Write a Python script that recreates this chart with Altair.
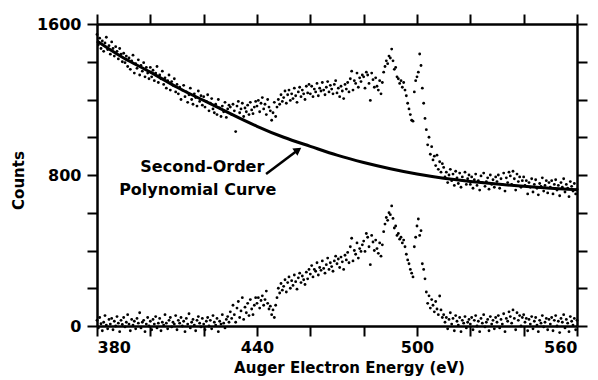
import altair as alt
import pandas as pd

# ---- data (0.5 eV steps starting at 380 eV) ----
START_EV = 380
STEP_EV = 0.5

raw_counts = [
    1545, 1490, 1525, 1470, 1510, 1455, 1500, 1530, 1465, 1485, 1440, 1505, 1470, 1430, 1480, 1455, 1415, 1470, 1440, 1400,
    1445, 1395, 1430, 1375, 1420, 1360, 1405, 1435, 1340, 1390, 1365, 1410, 1330, 1380, 1350, 1395, 1320, 1370, 1340, 1310,
    1370, 1320, 1355, 1300, 1340, 1375, 1290, 1330, 1310, 1350, 1280, 1315, 1260, 1300, 1330, 1250, 1295, 1275, 1310, 1240,
    1280, 1230, 1265, 1200, 1250, 1275, 1215, 1240, 1185, 1225, 1260, 1200, 1175, 1230, 1210, 1165, 1245, 1190, 1220, 1170,
    1215, 1160, 1190, 1225, 1140, 1180, 1205, 1150, 1130, 1175, 1120, 1200, 1155, 1110, 1165, 1135, 1185, 1105, 1150, 1170,
    1160, 1120, 1175, 1140, 1030, 1165, 1190, 1130, 1150, 1180, 1110, 1155, 1135, 1170, 1120, 1185, 1145, 1125, 1160, 1190,
    1165, 1195, 1135, 1180, 1210, 1150, 1175, 1120, 1200, 1160, 1140, 1090, 1130, 1185, 1110, 1160, 1200, 1175, 1225, 1190,
    1210, 1245, 1180, 1225, 1250, 1195, 1230, 1205, 1260, 1220, 1185, 1240, 1265, 1215, 1250, 1230, 1200, 1270, 1235, 1280,
    1230, 1270, 1215, 1255, 1240, 1285, 1220, 1260, 1245, 1290, 1250, 1225, 1265, 1295, 1240, 1275, 1255, 1230, 1280, 1300,
    1235, 1260, 1215, 1270, 1245, 1205, 1280, 1255, 1290, 1240, 1310, 1350, 1250, 1300, 1285, 1340, 1265, 1315, 1295, 1330,
    1320, 1260, 1345, 1330, 1285, 1195, 1340, 1305, 1265, 1315, 1270, 1250, 1300, 1230, 1290, 1345, 1375, 1405, 1390, 1430,
    1420, 1467, 1405, 1360, 1370, 1320, 1310, 1285, 1300, 1265, 1290, 1250, 1220, 1180, 1150, 1120, 1090, 1085, 1240, 1300,
    1320, 1345, 1441, 1380, 1260, 1180, 1100, 1040, 960, 1000, 910, 950, 880, 900, 850, 905, 830, 870, 815, 860,
    840, 790, 815, 760, 800, 830, 770, 805, 745, 820, 785, 755, 810, 735, 790, 770, 815, 750, 780, 800,
    750, 790, 730, 775, 805, 745, 770, 720, 795, 760, 810, 740, 765, 785, 725, 800, 750, 775, 735, 790,
    765, 800, 730, 780, 750, 810, 715, 785, 760, 815, 795, 750, 820, 780, 720, 805, 765, 790, 735, 770,
    790, 745, 770, 700, 760, 735, 780, 710, 750, 775, 730, 695, 755, 740, 785, 715, 745, 770, 705, 760,
    735, 770, 700, 750, 775, 720, 745, 690, 760, 735, 780, 710, 750, 730, 685, 765, 740, 715, 755, 700,
    725,
]

subtracted_counts = [
    30, -10, 45, 12, -25, 20, 55, 5, -15, 35, 10, 40, -20, 25, 0, 50, 15, -30, 30, 8,
    45, -5, 20, 60, 10, -25, 35, 5, 25, -15, 40, 15, 70, -10, 20, 30, -30, 10, 45, 0,
    25, -20, 35, 10, 50, -10, 15, 40, -25, 20, 5, 60, 15, -15, 30, 45, -5, 20, 10, 55,
    -20, 30, 15, 45, 0, 25, -30, 40, 10, 65, -10, 20, 35, 5, -25, 30, 50, 15, -5, 40,
    10, -20, 25, 45, 0, 30, -15, 55, 20, 5, 40, -30, 25, 10, 60, 15, -10, 35, 50, 20,
    75, 40, 110, 60, 20, 95, 130, 45, 80, 150, 35, 100, 70, 120, 55, 140, 90, 60, 110, 150,
    120, 150, 95, 135, 160, 110, 140, 185, 120, 90, 105, 60, 85, 45, 110, 150, 200, 175, 225, 190,
    210, 245, 180, 230, 260, 200, 240, 215, 270, 235, 195, 255, 280, 230, 265, 245, 220, 285, 250, 300,
    275, 320, 260, 300, 290, 335, 270, 310, 295, 345, 305, 280, 325, 360, 300, 335, 315, 290, 345, 370,
    330, 355, 310, 365, 340, 300, 375, 350, 390, 335, 420, 465, 345, 400, 380, 440, 360, 410, 395, 430,
    450, 395, 490, 470, 420, 325, 480, 445, 400, 455, 410, 385, 440, 370, 430, 500, 540, 575, 560, 600,
    590, 636, 570, 519, 530, 480, 490, 460, 470, 440, 455, 420, 380, 350, 330, 300, 280, 260, 420, 470,
    530, 567, 480, 505, 330, 300, 250, 180, 120, 160, 95, 140, 110, 75, 130, 90, 60, 159, 85, 45,
    60, 20, 45, -15, 35, 70, 10, 40, -25, 55, 25, 5, 45, -30, 30, 15, 50, -10, 20, 35,
    10, 45, -20, 30, 55, 0, 25, -30, 40, 15, 60, -5, 20, 35, -25, 50, 10, 30, -15, 45,
    20, 55, -10, 35, 10, 65, -30, 40, 25, 75, 50, 15, 85, 40, -20, 70, 30, 55, 0, 45,
    60, 20, 40, -25, 35, 10, 50, -15, 25, 45, 5, -30, 30, 15, 55, -5, 20, 40, -20, 35,
    10, 45, -25, 30, 55, 0, 25, -35, 40, 20, 60, -10, 35, 15, -30, 50, 25, 5, 40, -20,
    30,
]

curve_energy = [380, 390, 400, 410, 420, 430, 440, 450, 460, 470, 480, 490, 500, 510, 520, 530, 540, 550, 560]
curve_counts = [1510, 1420, 1345, 1265, 1195, 1125, 1058, 1000, 952, 905, 866, 833, 805, 783, 766, 752, 740, 730, 722]

label_lines = ["Second-Order", "Polynomial Curve"]
label_energy = [419.5, 417.8]
label_counts = [842, 718]

arrow_tail = [443.4, 805]
arrow_head = [455.0, 929]

x_ticks = [380, 400, 420, 440, 460, 480, 500, 520, 540, 560]
y_ticks = [0, 200, 400, 600, 800, 1000, 1200, 1400, 1600]

# ---- tables ----
pts = pd.DataFrame({
    "energy": [START_EV + STEP_EV * i for i in range(len(raw_counts))]
              + [START_EV + STEP_EV * i for i in range(len(subtracted_counts))],
    "counts": raw_counts + subtracted_counts,
    "series": ["raw"] * len(raw_counts) + ["subtracted"] * len(subtracted_counts),
})
curve_df = pd.DataFrame({"energy": curve_energy, "counts": curve_counts})
text_df = pd.DataFrame({"energy": label_energy, "counts": label_counts, "text": label_lines})
arrow_df = pd.DataFrame({"x": [arrow_tail[0]], "y": [arrow_tail[1]], "x2": [arrow_head[0]], "y2": [arrow_head[1]]})
head_df = pd.DataFrame({"x": [arrow_head[0]], "y": [arrow_head[1]]})

FONT = "DejaVu Sans"
xs = alt.Scale(domain=[380, 560], nice=False, zero=False)
ys = alt.Scale(domain=[0, 1600], nice=False)

common = dict(grid=False, tickSize=10, tickWidth=2, domainWidth=2.5,
              domainColor="black", tickColor="black")

bottom_axis = alt.Axis(values=x_ticks, orient="bottom", format="d",
                       labelExpr="(datum.value - 380) % 60 == 0 ? datum.label : ''",
                       title="Auger Electron Energy (eV)",
                       labelFont=FONT, labelFontSize=16, labelFontWeight="bold", labelColor="black",
                       labelPadding=3,
                       titleFont=FONT, titleFontSize=15, titleFontWeight="bold", titleColor="black",
                       titleX=252, titleY=34, **common)
left_axis = alt.Axis(values=y_ticks, orient="left", format="d",
                     labelExpr="datum.value % 800 == 0 ? datum.label : ''",
                     title="Counts",
                     labelFont=FONT, labelFontSize=16, labelFontWeight="bold", labelColor="black",
                     labelPadding=6,
                     titleFont=FONT, titleFontSize=15, titleFontWeight="bold", titleColor="black",
                     titleX=-71, titleY=156, **common)
top_axis = alt.Axis(values=x_ticks, orient="top", labels=False, title=None, **common)
right_axis = alt.Axis(values=y_ticks, orient="right", labels=False, title=None, **common)

points = alt.Chart(pts).mark_circle(size=8, color="black", opacity=1).encode(
    x=alt.X("energy:Q", scale=xs, axis=bottom_axis),
    y=alt.Y("counts:Q", scale=ys, axis=left_axis),
    detail="series:N",
)

curve = alt.Chart(curve_df).mark_line(color="black", strokeWidth=3, interpolate="natural").encode(
    x=alt.X("energy:Q", scale=xs, axis=top_axis),
    y=alt.Y("counts:Q", scale=ys, axis=right_axis),
)

labels = alt.Chart(text_df).mark_text(font=FONT, fontSize=16, fontWeight="bold", color="black",
                                      align="center", baseline="middle").encode(
    x=alt.X("energy:Q", scale=xs, axis=None),
    y=alt.Y("counts:Q", scale=ys, axis=None),
    text="text:N",
)

arrow = alt.Chart(arrow_df).mark_rule(color="black", strokeWidth=2.5).encode(
    x=alt.X("x:Q", scale=xs, axis=None),
    y=alt.Y("y:Q", scale=ys, axis=None),
    x2="x2:Q",
    y2="y2:Q",
)

head = alt.Chart(head_df).mark_point(shape="triangle", filled=True, size=80, angle=55,
                                     color="black", opacity=1).encode(
    x=alt.X("x:Q", scale=xs, axis=None),
    y=alt.Y("y:Q", scale=ys, axis=None),
)

chart = alt.layer(points, curve, labels, arrow, head).resolve_axis(
    x="independent", y="independent"
).properties(
    width=480, height=302,
    autosize=alt.AutoSizeParams(type="none"),
    padding={"left": 97, "top": 24, "right": 21, "bottom": 54},
).configure_view(strokeWidth=0)

chart.save("out.html", embed_options={"renderer": "svg", "actions": False})
